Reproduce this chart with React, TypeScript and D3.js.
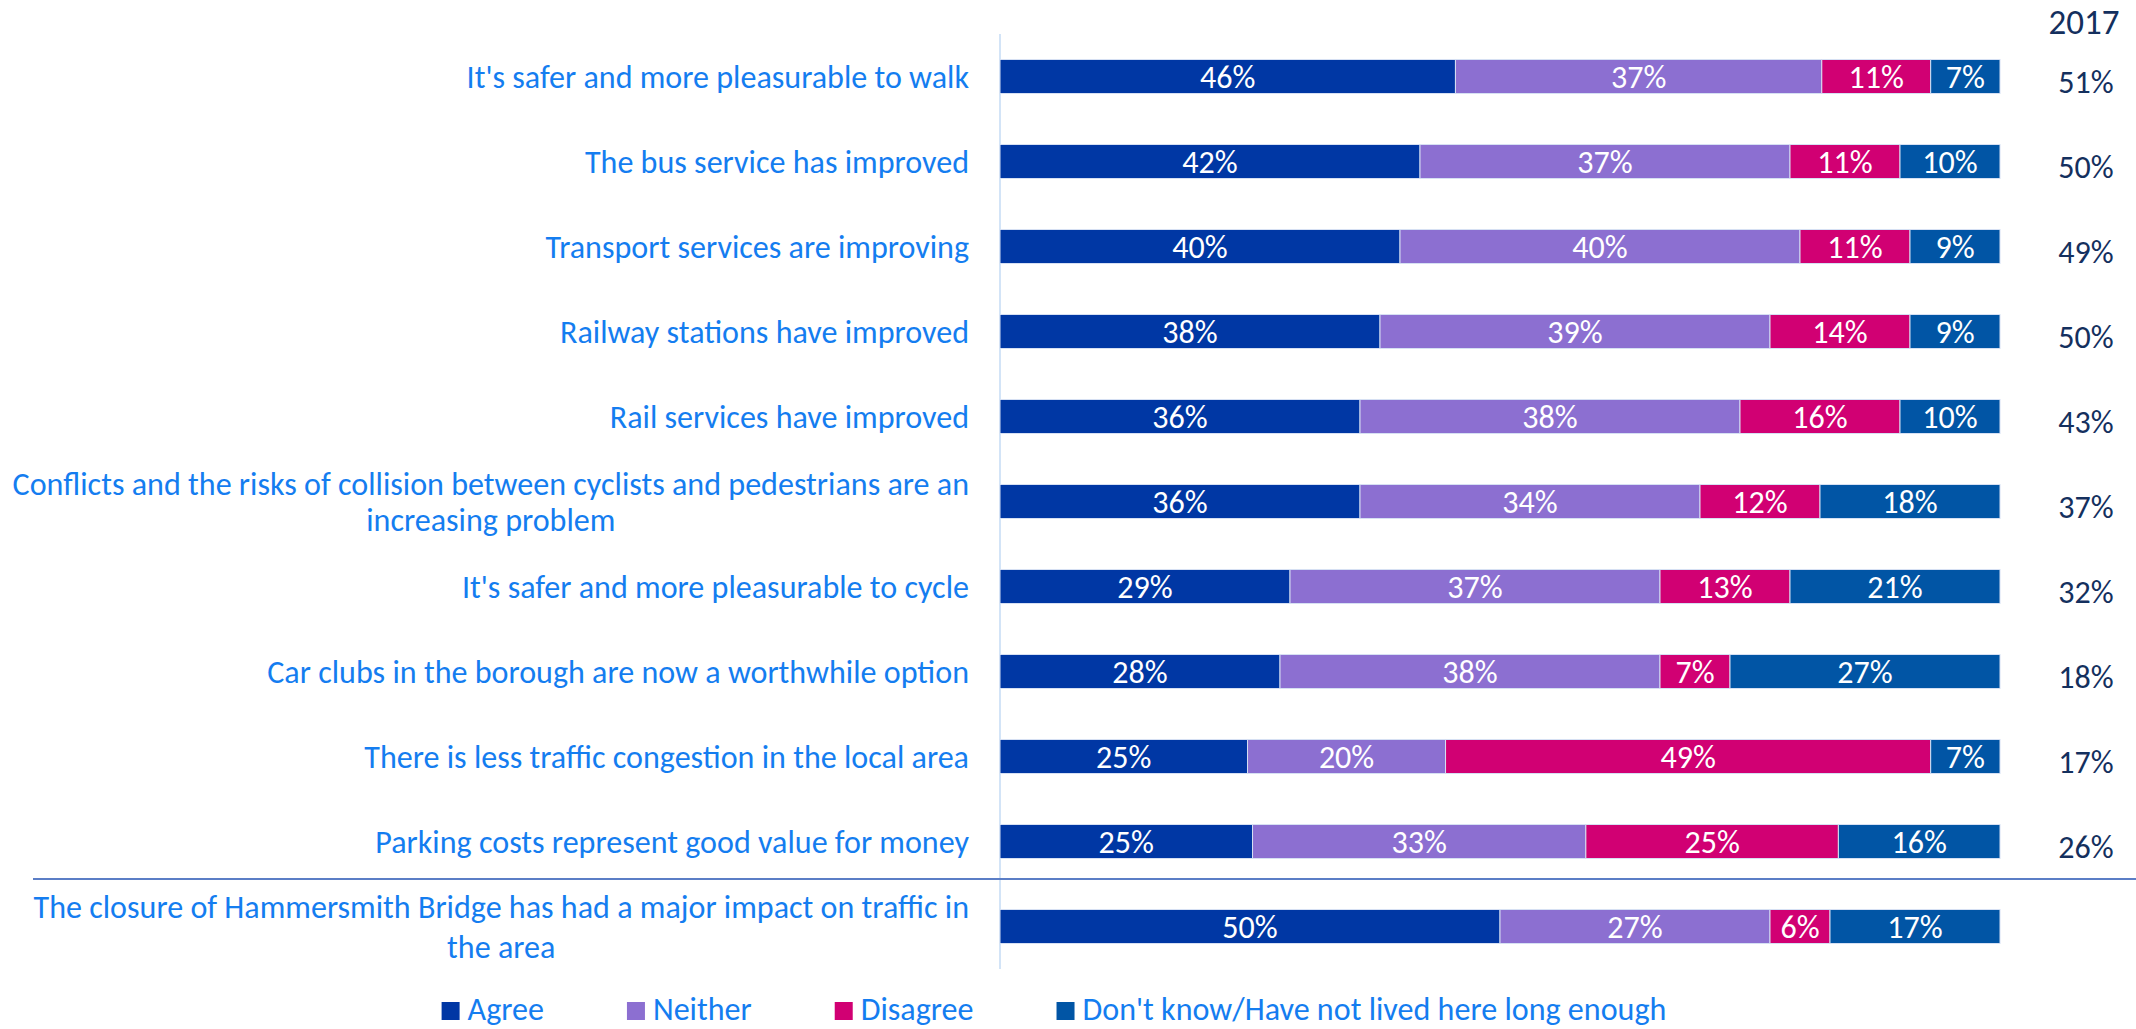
import React, { useEffect, useRef } from "react";
import * as d3 from "d3";

const categories: string[][] = [
  ["It's safer and more pleasurable to walk"],
  ["The bus service has improved"],
  ["Transport services are improving"],
  ["Railway stations have improved"],
  ["Rail services have improved"],
  ["Conflicts and the risks of collision between cyclists and pedestrians are an", "increasing problem"],
  ["It's safer and more pleasurable to cycle"],
  ["Car clubs in the borough are now a worthwhile option"],
  ["There is less traffic congestion in the local area"],
  ["Parking costs represent good value for money"],
  ["The closure of Hammersmith Bridge has had a major impact on traffic in", "the area"],
];

const seriesNames = ["Agree", "Neither", "Disagree", "Don't know/Have not lived here long enough"];
const agree = [46, 42, 40, 38, 36, 36, 29, 28, 25, 25, 50];
const neither = [37, 37, 40, 39, 38, 34, 37, 38, 20, 33, 27];
const disagree = [11, 11, 11, 14, 16, 12, 13, 7, 49, 25, 6];
const dontKnow = [7, 10, 9, 9, 10, 18, 21, 27, 7, 16, 17];
const values2017: (number | null)[] = [51, 50, 49, 50, 43, 37, 32, 18, 17, 26, null];
const header2017 = "2017";

const colors = ["#0037a4", "#8c6fd1", "#d10073", "#0155a5"];

const W = 2136;
const H = 1029;
const FONT = "Carlito, Lato, 'Open Sans', sans-serif";
const LABEL_BLUE = "#147df0";
const NAVY = "#14305e";

export default function App() {
  const ref = useRef<SVGSVGElement | null>(null);

  useEffect(() => {
    const svg = d3.select(ref.current);
    svg.selectAll("*").remove();

    const rows = categories.map((c, i) => ({
      key: String(i),
      lines: c,
      vals: [agree[i], neither[i], disagree[i], dontKnow[i]],
      v2017: values2017[i],
    }));

    const y = d3
      .scaleBand<string>()
      .domain(rows.map((r) => r.key))
      .range([34, 969])
      .paddingInner(0.6)
      .paddingOuter(0.3);
    const x = d3.scaleLinear().domain([0, 1]).range([1000, 2000]);

    // measure font for category labels
    const probe = svg
      .append("text")
      .attr("font-family", FONT)
      .attr("font-size", 100)
      .attr("visibility", "hidden");
    let maxW = 0;
    rows.forEach((r) =>
      r.lines.forEach((l) => {
        probe.text(l);
        maxW = Math.max(maxW, (probe.node() as SVGTextElement).getComputedTextLength());
      })
    );
    probe.remove();
    const labelSize = Math.min(34, (957 / maxW) * 100);

    // axis line
    svg
      .append("line")
      .attr("x1", 1000)
      .attr("x2", 1000)
      .attr("y1", 34)
      .attr("y2", 969)
      .attr("stroke", "#c5dbf5")
      .attr("stroke-width", 1.5);

    // bars
    const g = svg.append("g");
    rows.forEach((r) => {
      const total = d3.sum(r.vals);
      let acc = 0;
      const y0 = y(r.key)!;
      const bh = y.bandwidth();
      r.vals.forEach((v, j) => {
        const a = acc / total;
        const b = (acc + v) / total;
        acc += v;
        g.append("rect")
          .attr("x", x(a))
          .attr("y", y0)
          .attr("width", x(b) - x(a))
          .attr("height", bh)
          .attr("fill", colors[j])
          .attr("stroke", "#d6e0f3")
          .attr("stroke-width", 1);
        g.append("text")
          .attr("x", (x(a) + x(b)) / 2)
          .attr("y", y0 + bh / 2)
          .attr("dy", "0.35em")
          .attr("text-anchor", "middle")
          .attr("font-family", FONT)
          .attr("font-size", 32)
          .attr("fill", "#ffffff")
          .text(`${v}%`);
      });

      // category labels
      const cy = y0 + bh / 2;
      const n = r.lines.length;
      const lh = r.key === "10" ? 40 : 36;
      const t0 = svg
        .append("text")
        .attr("font-family", FONT)
        .attr("font-size", labelSize)
        .attr("fill", LABEL_BLUE)
        .attr("text-anchor", "end")
        .attr("x", 969)
        .attr("y", cy - ((n - 1) * lh) / 2)
        .attr("dy", "0.35em")
        .text(r.lines[0]);
      if (n > 1) {
        const w0 = (t0.node() as SVGTextElement).getComputedTextLength();
        const cx = 969 - w0 / 2;
        for (let k = 1; k < n; k++) {
          svg
            .append("text")
            .attr("font-family", FONT)
            .attr("font-size", labelSize)
            .attr("fill", LABEL_BLUE)
            .attr("text-anchor", "middle")
            .attr("x", cx)
            .attr("y", cy - ((n - 1) * lh) / 2 + k * lh)
            .attr("dy", "0.35em")
            .text(r.lines[k]);
        }
      }

      if (r.v2017 !== null) {
        svg
          .append("text")
          .attr("x", 2086)
          .attr("y", cy + 5)
          .attr("dy", "0.35em")
          .attr("text-anchor", "middle")
          .attr("font-family", FONT)
          .attr("font-size", 32)
          .attr("fill", NAVY)
          .text(`${r.v2017}%`);
      }
    });

    // header
    svg
      .append("text")
      .attr("x", 2084)
      .attr("y", 34)
      .attr("text-anchor", "middle")
      .attr("font-family", FONT)
      .attr("font-size", 35)
      .attr("fill", NAVY)
      .text(header2017);

    // separator line
    svg
      .append("line")
      .attr("x1", 33)
      .attr("x2", W)
      .attr("y1", 879)
      .attr("y2", 879)
      .attr("stroke", "#5b7ec6")
      .attr("stroke-width", 2);

    // legend
    const lg = svg.append("g");
    let lx = 0;
    seriesNames.forEach((name, j) => {
      lg.append("rect")
        .attr("x", lx)
        .attr("y", 1002)
        .attr("width", 18)
        .attr("height", 18)
        .attr("fill", colors[j]);
      const t = lg
        .append("text")
        .attr("x", lx + 26)
        .attr("y", 1020)
        .attr("font-family", FONT)
        .attr("font-size", labelSize)
        .attr("fill", LABEL_BLUE)
        .text(name);
      const tw = (t.node() as SVGTextElement).getComputedTextLength();
      lx += 26 + tw + (j < seriesNames.length - 1 ? 83 : 0);
    });
    const start = 1054 - lx / 2;
    lg.attr("transform", `translate(${start},0)`);
  }, []);

  return (
    <svg
      ref={ref}
      width={W}
      height={H}
      style={{ position: "absolute", left: 0, top: 0, background: "#ffffff" }}
    />
  );
}
